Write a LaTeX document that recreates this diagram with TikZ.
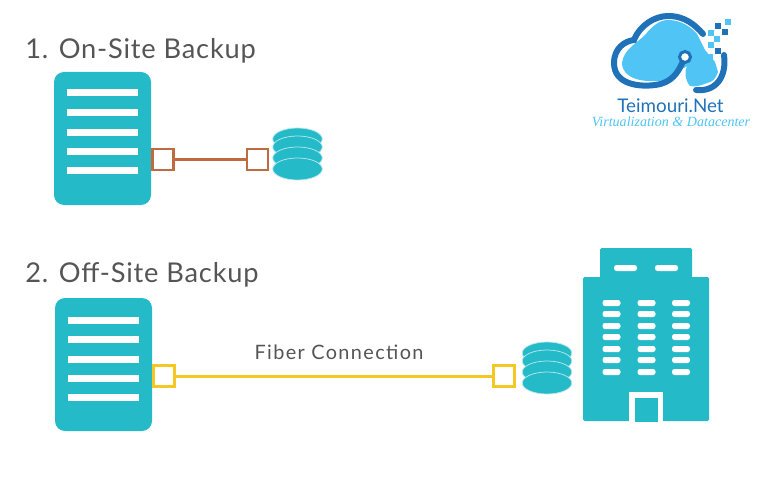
\documentclass[tikz,border=0pt]{standalone}
\usepackage{fontspec}
\setmainfont{Lato}
\newfontfamily\taglinefont{Liberation Serif}
\newfontfamily\titlefont[LetterSpace=3]{Lato}
\newfontfamily\fiberfont[LetterSpace=7]{Lato}
\usepackage{tikz}
\usetikzlibrary{shapes}
\definecolor{teal1}{HTML}{25BAC8}
\definecolor{brick}{HTML}{BF6A3F}
\definecolor{amber}{HTML}{F5C723}
\definecolor{inkgray}{HTML}{555555}
\definecolor{cloudblue}{HTML}{4FC4F5}
\definecolor{cloudline}{HTML}{1F72B8}
\tikzstyle{server}=[rectangle,fill=teal1,rounded corners=2mm,inner sep=0mm,minimum width=19.4mm,minimum height=26.6mm]
\tikzstyle{bar}=[rectangle,fill=white,inner sep=0mm,minimum width=14.2mm,minimum height=1.4mm]
\tikzstyle{portA}=[rectangle,draw=brick,fill=white,line width=0.5mm,inner sep=0mm,minimum size=4.2mm]
\tikzstyle{portB}=[rectangle,draw=amber,fill=white,line width=0.5mm,inner sep=0mm,minimum size=4.2mm]
\tikzstyle{disk}=[ellipse,fill=teal1,draw=teal1!35,line width=0.15mm,inner sep=0mm,minimum width=9.9mm,minimum height=4.4mm]
\tikzstyle{window}=[rectangle,rounded corners=0.5mm,fill=white,inner sep=0mm,minimum width=3.6mm,minimum height=1.2mm]
\tikzstyle{roofwindow}=[rectangle,rounded corners=0.5mm,fill=white,inner sep=0mm,minimum width=4.6mm,minimum height=1.2mm]
\tikzstyle{pixel}=[rectangle,inner sep=0mm,minimum size=1.1mm]
\begin{document}
\begin{tikzpicture}[x=0.2mm,y=-0.2mm]
    \useasboundingbox (0,0) rectangle (768,486);
    \node[anchor=west,inner sep=0mm,text=inkgray,font=\titlefont\fontsize{15.5}{15.5}\selectfont] at (25,51) (title1) {1. On-Site Backup};
    \node[anchor=west,inner sep=0mm,text=inkgray,font=\titlefont\fontsize{15.5}{15.5}\selectfont] at (25,275) (title2) {2. Off-Site Backup};
    % on-site
    \node[server] at (102.5,138.5) (srv1) {};
    \node[bar] at (102,93) (b11) {};
    \node[bar] at (102,113) (b12) {};
    \node[bar] at (102,133) (b13) {};
    \node[bar] at (102,152) (b14) {};
    \node[bar] at (102,171) (b15) {};
    \node[portA] at (163,159.5) (p1a) {};
    \node[portA] at (257.5,159.5) (p1b) {};
    \draw[draw=brick,line width=0.6mm] (p1a) to (p1b);
    \node[disk] at (297.5,139) (d11) {};
    \node[disk] at (297.5,147) (d12) {};
    \node[disk] at (297.5,158) (d13) {};
    \node[disk] at (297.5,169) (d14) {};
    % off-site
    \node[server] at (103.5,364.5) (srv2) {};
    \node[bar] at (103,320) (b21) {};
    \node[bar] at (103,339) (b22) {};
    \node[bar] at (103,359) (b23) {};
    \node[bar] at (103,378) (b24) {};
    \node[bar] at (103,397) (b25) {};
    \node[portB] at (164,376) (p2a) {};
    \node[portB] at (504,376) (p2b) {};
    \draw[draw=amber,line width=0.6mm] (p2a) to node [above=1.8mm,xshift=1mm,text=inkgray,font=\fiberfont\fontsize{11.3}{11.3}\selectfont] {Fiber Connection} (p2b);
    \node[disk] at (547,353) (d21) {};
    \node[disk] at (547,361) (d22) {};
    \node[disk] at (547,372) (d23) {};
    \node[disk] at (547,383) (d24) {};
    % building
    \fill[teal1,rounded corners=0.3mm] (600,248) rectangle (692,285);
    \fill[teal1,rounded corners=0.3mm] (583,277) rectangle (709,421);
    \node[roofwindow] at (625.5,268) (rw1) {};
    \node[roofwindow] at (666.5,268) (rw2) {};
    \node[window] at (611.5,303) (w11) {};
    \node[window] at (646.5,303) (w12) {};
    \node[window] at (681,303) (w13) {};
    \node[window] at (611.5,314) (w21) {};
    \node[window] at (646.5,314) (w22) {};
    \node[window] at (681,314) (w23) {};
    \node[window] at (611.5,326) (w31) {};
    \node[window] at (646.5,326) (w32) {};
    \node[window] at (681,326) (w33) {};
    \node[window] at (611.5,337) (w41) {};
    \node[window] at (646.5,337) (w42) {};
    \node[window] at (681,337) (w43) {};
    \node[window] at (611.5,349) (w51) {};
    \node[window] at (646.5,349) (w52) {};
    \node[window] at (681,349) (w53) {};
    \node[window] at (611.5,360) (w61) {};
    \node[window] at (646.5,360) (w62) {};
    \node[window] at (681,360) (w63) {};
    \node[window] at (611.5,372) (w71) {};
    \node[window] at (646.5,372) (w72) {};
    \node[window] at (681,372) (w73) {};
    \fill[white] (629,392) rectangle (663,422);
    \fill[teal1] (635,398) rectangle (658,422);
    % logo
    \fill[cloudblue] (622,63) .. controls (623,50) and (638,42) .. (645,35) .. controls (652,26) and (660,20) .. (668,20) .. controls (682,20) and (692,28) .. (697,34) -- (705,50) -- (715,62) -- (718,72) .. controls (715,80) and (712,82) .. (707,83) .. controls (700,86) and (695,87) .. (690,86) .. controls (685,80) and (684,72) .. (687,66) -- (665,80) .. controls (655,82) and (645,81) .. (640,80) .. controls (630,78) and (622,72) .. (622,63) -- cycle;
    \node[circle,draw=cloudline,fill=white,line width=0.6mm,inner sep=0mm,minimum size=2.2mm] at (685,57) (hub) {};
    \draw[draw=cloudline,line width=1.2mm,line cap=round] (hub) .. controls (678,72) and (672,83) .. (655,85) .. controls (640,87) and (614,85) .. (614,63) .. controls (614,48) and (625,41) .. (634,40) .. controls (640,25) and (655,16) .. (668,16) .. controls (685,16) and (695,25) .. (703,34);
    \draw[draw=cloudline,line width=1.2mm,line cap=round] (696,90) .. controls (715,92) and (727,78) .. (724,55);
    \node[pixel,fill=cloudline] at (718,26) (px1) {};
    \node[pixel,fill=cloudblue] at (728,22) (px2) {};
    \node[pixel,fill=cloudline] at (725,32) (px3) {};
    \node[pixel,fill=cloudblue] at (711,33) (px4) {};
    \node[pixel,fill=cloudblue] at (717,39) (px5) {};
    \node[pixel,fill=cloudblue] at (711,45) (px7) {};
    \node[pixel,fill=cloudline] at (718,51) (px8) {};
    \node[pixel,fill=cloudblue] at (710,57) (px9) {};
    \node[inner sep=0mm,text=cloudline,font=\fontsize{10.7}{10.7}\selectfont] at (670.5,106) (brand) {Teimouri.Net};
    \node[inner sep=0mm,text=cloudblue,font=\taglinefont\itshape\fontsize{8}{8}\selectfont] at (671,122) (tagline) {Virtualization \& Datacenter};
  \end{tikzpicture}
\end{document}
